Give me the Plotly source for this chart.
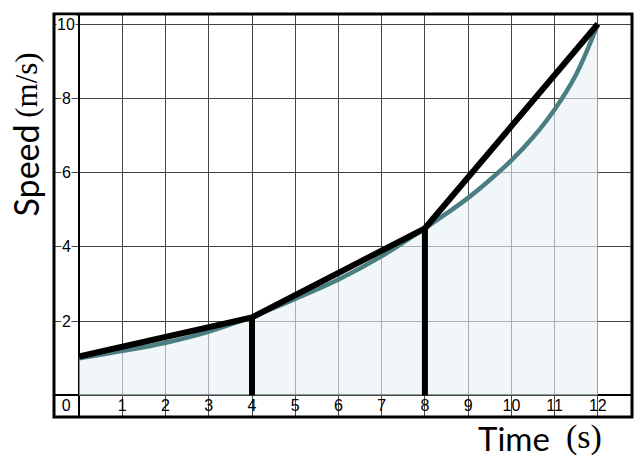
import plotly.graph_objects as go

# Data
curve_t = [0, 1, 2, 3, 4, 5, 6, 7, 8, 8.5, 9, 9.5, 10, 10.5, 11, 11.5, 12]
curve_v = [1.0, 1.2, 1.42, 1.72, 2.12, 2.6, 3.12, 3.75, 4.5, 4.9, 5.32, 5.8, 6.33, 6.95, 7.7, 8.65, 10.0]
chord_t = [0, 4, 8, 12]
chord_v = [1.05, 2.1, 4.5, 10.0]
x_ticks = list(range(1, 13))
y_ticks = [2, 4, 6, 8, 10]

teal = "#4b7e82"

fig = go.Figure()

# filled area under curve
fig.add_trace(go.Scatter(x=curve_t, y=curve_v, mode="lines", line=dict(width=0, shape="spline"),
                         fill="tozeroy", fillcolor="rgba(232,240,243,0.62)", hoverinfo="skip"))
# teal curve
fig.add_trace(go.Scatter(x=curve_t, y=curve_v, mode="lines",
                         line=dict(color=teal, width=4.5, shape="spline", smoothing=1.0)))
# vertical black lines at chord breakpoints
for t, v in zip(chord_t[1:3], chord_v[1:3]):
    fig.add_trace(go.Scatter(x=[t, t], y=[0, v], mode="lines", line=dict(color="black", width=6)))
# chord line
fig.add_trace(go.Scatter(x=chord_t, y=chord_v, mode="lines", line=dict(color="black", width=6)))

# x tick labels inside bottom band
fig.add_trace(go.Scatter(x=[-0.3] + x_ticks, y=[-0.3] * (len(x_ticks) + 1), mode="text",
                         text=[str(v) for v in [0] + x_ticks],
                         textfont=dict(family="Liberation Sans", size=16, color="black"),
                         textposition="middle center", hoverinfo="skip"))

# y tick labels with white background
for v in y_ticks:
    fig.add_annotation(x=-0.3, y=v, text=str(v), showarrow=False, bgcolor="white",
                       borderpad=0, xanchor="center", yanchor="middle",
                       font=dict(family="Liberation Sans", size=16, color="black"))

sans = "Lato"
serif = "Liberation Serif"

# Axis titles
fig.add_annotation(xref="paper", yref="paper", x=0.8616, y=-0.052, xanchor="right", yanchor="middle",
                   text="Time", showarrow=False, font=dict(family=sans, size=33, color="black"))
fig.add_annotation(xref="paper", yref="paper", x=0.882, y=-0.05, xanchor="left", yanchor="middle",
                   text="(s)", showarrow=False, font=dict(family=serif, size=34, color="black"))
fig.add_annotation(xref="paper", x=-0.05, yref="paper", y=0.612, xanchor="center", yanchor="middle",
                   textangle=-90, text="Speed", showarrow=False,
                   font=dict(family=sans, size=34, color="black"))
fig.add_annotation(xref="paper", x=-0.047, yref="paper", y=0.824, xanchor="center", yanchor="middle",
                   textangle=-90, text="(m/s)", showarrow=False,
                   font=dict(family=serif, size=31, color="black"))

# frame
fig.add_shape(type="rect", xref="paper", yref="paper", x0=0, y0=0, x1=1, y1=1,
              line=dict(color="black", width=3), layer="above")

fig.update_layout(
    width=640, height=460,
    margin=dict(l=54, r=8, t=14, b=43),
    paper_bgcolor="white", plot_bgcolor="white",
    showlegend=False,
    xaxis=dict(range=[-0.58, 12.79], dtick=1, tick0=0, showgrid=True, gridcolor="#444",
               gridwidth=1, zeroline=True, zerolinecolor="black", zerolinewidth=2,
               showticklabels=False, ticks="", fixedrange=True),
    yaxis=dict(range=[-0.58, 10.27], dtick=2, tick0=0, showgrid=True, gridcolor="#444",
               gridwidth=1, zeroline=True, zerolinecolor="black", zerolinewidth=2,
               showticklabels=False, ticks="", fixedrange=True),
)

fig.write_html("out.html", config={"displayModeBar": False},
               post_script="document.body.style.margin='0';")
